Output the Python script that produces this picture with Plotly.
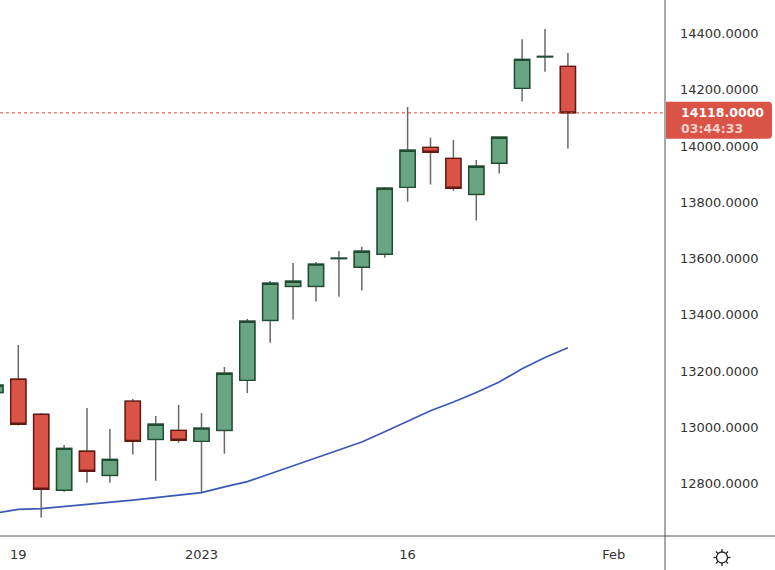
import math
import plotly.graph_objects as go

# ---- data ----
dates = ["2022-12-16", "2022-12-19", "2022-12-20", "2022-12-21", "2022-12-22", "2022-12-23",
         "2022-12-28", "2022-12-29", "2022-12-30", "2023-01-03", "2023-01-04", "2023-01-05",
         "2023-01-06", "2023-01-09", "2023-01-10", "2023-01-11", "2023-01-12", "2023-01-13",
         "2023-01-16", "2023-01-17", "2023-01-18", "2023-01-19", "2023-01-20", "2023-01-26",
         "2023-01-27", "2023-01-30"]
future_sessions = ["2023-01-31", "2023-02-01", "2023-02-02", "2023-02-03"]

open_ = [13124, 13171, 13046, 12776, 12915, 12829, 13093, 12957, 12989, 12950, 12989, 13167, 13380,
         13501, 13501, 13600, 13569, 13615, 13853, 13995, 13956, 13828, 13939, 14205, 14317, 14283]
high = [13160, 13293, 13051, 12937, 13069, 12994, 13101, 13040, 13079, 13051, 13214, 13385, 13520,
        13584, 13588, 13627, 13642, 13854, 14139, 14029, 14021, 13950, 14031, 14380, 14416, 14331]
low = [13110, 13006, 12679, 12771, 12803, 12803, 12903, 12810, 12945, 12768, 12906, 13122, 13301,
       13383, 13447, 13464, 13486, 13603, 13802, 13863, 13841, 13735, 13902, 14158, 14264, 13991]
close = [13150, 13011, 12780, 12925, 12844, 12886, 12950, 13011, 12954, 12997, 13192, 13377, 13512,
         13519, 13580, 13601, 13626, 13850, 13985, 13978, 13850, 13928, 14031, 14308, 14318, 14118]
ma = [12695, 12708, 12711, 12718, 12725, 12732, 12741, 12750, 12758, 12768, 12788, 12807, 12835,
      12863, 12892, 12919, 12948, 12984, 13021, 13059, 13090, 13124, 13161, 13208, 13248, 13283]

price_ticks = [12800, 13000, 13200, 13400, 13600, 13800, 14000, 14200, 14400]
date_ticks = ["2022-12-19", "2023-01-03", "2023-01-16", "2023-02-01"]
date_tick_text = ["19", "2023", "16", "Feb"]
last_price_text = "14118.0000"
countdown_text = "03:44:33"

# ---- mapping sessions to axis positions ----
sessions = dates + future_sessions
pos = {d: i for i, d in enumerate(sessions)}
x = [pos[d] for d in dates]

body_hi = [max(o, c) for o, c in zip(open_, close)]
body_lo = [min(o, c) for o, c in zip(open_, close)]

GREEN_FILL = "#6aa583"
GREEN_LINE = "#1d4c31"
RED_FILL = "#d95446"
RED_LINE = "#661810"
WICK = "#6a6a6a"
FONT = "DejaVu Sans"

fig = go.Figure()
fig.add_trace(go.Scatter(x=x, y=ma, mode="lines",
                         line=dict(color="#3c58b6", width=1.7), hoverinfo="skip"))
# wicks
fig.add_trace(go.Candlestick(x=x, open=open_, high=high, low=low, close=close,
                             increasing=dict(line=dict(color=WICK, width=1.5), fillcolor="rgba(0,0,0,0)"),
                             decreasing=dict(line=dict(color=WICK, width=1.5), fillcolor="rgba(0,0,0,0)"),
                             whiskerwidth=0, hoverinfo="skip"))
# bodies
fig.add_trace(go.Candlestick(x=x, open=open_, high=body_hi, low=body_lo, close=close,
                             increasing=dict(line=dict(color=GREEN_LINE, width=1.4), fillcolor=GREEN_FILL),
                             decreasing=dict(line=dict(color=RED_LINE, width=1.4), fillcolor=RED_FILL),
                             whiskerwidth=0, hoverinfo="skip"))

W, H = 775, 570
L, R, T, B = 0, 110, 0, 34
pw, ph = W - L - R, H - T - B

shapes = []
# last price dotted line
shapes.append(dict(type="line", xref="paper", x0=0, x1=1, yref="y", y0=close[-1], y1=close[-1],
                   line=dict(color="#e0483a", width=1, dash="dot"), layer="above"))
# axis separator lines
shapes.append(dict(type="line", xref="paper", x0=0, x1=W / pw, yref="paper", y0=0, y1=0,
                   line=dict(color="#555555", width=1), layer="above"))
shapes.append(dict(type="line", xref="paper", x0=1, x1=1, yref="paper", y0=-B / ph, y1=1,
                   line=dict(color="#555555", width=1), layer="above"))
# price label box with rounded right corners
shapes.append(dict(type="path", xref="paper", xsizemode="pixel", xanchor=1,
                   yref="y", ysizemode="pixel", yanchor=close[-1],
                   path="M 1,11 L 103,11 Q 107,11 107,7 L 107,-22 Q 107,-26 103,-26 L 1,-26 Z",
                   fillcolor="#d95446", line=dict(width=0), layer="above"))
# sun icon
cx, cy = (722 - L) / pw, (ph - (557.5 - T)) / ph
shapes.append(dict(type="circle", xref="paper", xsizemode="pixel", xanchor=cx, x0=-5.5, x1=5.5,
                   yref="paper", ysizemode="pixel", yanchor=cy, y0=-5.5, y1=5.5,
                   line=dict(color="#222222", width=1.3), layer="above"))
for k in range(8):
    a = k * math.pi / 4
    shapes.append(dict(type="line", xref="paper", xsizemode="pixel", xanchor=cx,
                       x0=5.5 * math.cos(a), x1=8.5 * math.cos(a),
                       yref="paper", ysizemode="pixel", yanchor=cy,
                       y0=5.5 * math.sin(a), y1=8.5 * math.sin(a),
                       line=dict(color="#222222", width=1.3), layer="above"))

annotations = [
    dict(xref="paper", x=1, xanchor="left", xshift=14, yref="y", y=close[-1], yanchor="middle",
         text="<b>" + last_price_text + "</b>", showarrow=False,
         font=dict(family=FONT, size=12.5, color="white")),
    dict(xref="paper", x=1, xanchor="left", xshift=14, yref="y", y=close[-1], yanchor="middle",
         yshift=-16, text="<b>" + countdown_text + "</b>", showarrow=False,
         font=dict(family=FONT, size=12.5, color="#f5d3cd")),
]

fig.update_layout(
    width=W, height=H, margin=dict(l=L, r=R, t=T, b=B),
    paper_bgcolor="white", plot_bgcolor="white", showlegend=False,
    boxgap=0.34, boxgroupgap=0,
    font=dict(family=FONT, size=13, color="#333333"),
    shapes=shapes, annotations=annotations,
    xaxis=dict(range=[0.201, 29.24], tickmode="array",
               tickvals=[pos[d] for d in date_ticks], ticktext=date_tick_text,
               showgrid=False, zeroline=False, showline=False, ticks="",
               rangeslider=dict(visible=False), ticklabelstandoff=9,
               tickfont=dict(family=FONT, size=13, color="#333333")),
    yaxis=dict(range=[12613.6, 14519.1], side="right", tickmode="array",
               tickvals=price_ticks, tickformat=".4f",
               showgrid=False, zeroline=False, showline=False, ticks="",
               ticklabelstandoff=14,
               tickfont=dict(family=FONT, size=13, color="#333333")),
)

fig.write_html("out.html", config={"displayModeBar": False})
